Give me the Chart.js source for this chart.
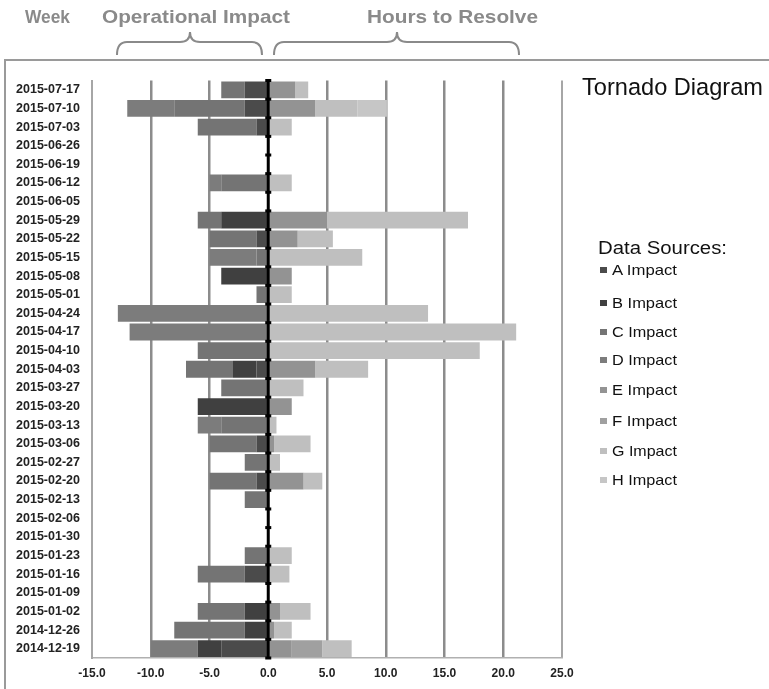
<!DOCTYPE html>
<html>
<head>
<meta charset="utf-8">
<script src="https://cdn.jsdelivr.net/npm/chart.js@4.4.1/dist/chart.umd.min.js"></script>
<style>
  body { margin: 0; background: #fff; width: 769px; height: 689px; overflow: hidden; position: relative; }
  #frame { position: absolute; left: 4px; top: 59px; width: 765px; height: 630px; border-top: 2px solid #9a9a9a; border-left: 2px solid #9a9a9a; }
  #chart { position: absolute; left: 6px; top: 61px; }
  #overlay { position: absolute; left: 0; top: 0; pointer-events: none; }
</style>
</head>
<body>
<div id="frame"></div>
<canvas id="chart" width="763" height="628"></canvas>
<svg id="overlay" width="769" height="689" xmlns="http://www.w3.org/2000/svg"></svg>
<script>
const weeks = [
  '2015-07-17', '2015-07-10', '2015-07-03', '2015-06-26', '2015-06-19', '2015-06-12',
  '2015-06-05', '2015-05-29', '2015-05-22', '2015-05-15', '2015-05-08', '2015-05-01',
  '2015-04-24', '2015-04-17', '2015-04-10', '2015-04-03', '2015-03-27', '2015-03-20',
  '2015-03-13', '2015-03-06', '2015-02-27', '2015-02-20', '2015-02-13', '2015-02-06',
  '2015-01-30', '2015-01-23', '2015-01-16', '2015-01-09', '2015-01-02', '2014-12-26',
  '2014-12-19'
];

// operational impact (left side, negative)
const aImpact = [-2, -2, -1, 0, 0, 0, 0, 0, -1, 0, 0, 0, 0, 0, 0, -1, 0, 0, 0, -1, 0, -1, 0, 0, 0, 0, -2, 0, 0, 0, -4];
const bImpact = [0, 0, 0, 0, 0, 0, 0, -4, 0, 0, -4, 0, 0, 0, 0, -2, 0, -6, 0, 0, 0, 0, 0, 0, 0, 0, 0, 0, -2, -2, -2];
const cImpact = [-2, -6, -5, 0, 0, -4, 0, -2, -4, -1, 0, -1, 0, 0, -6, -4, -4, 0, -4, -4, -2, -4, -2, 0, 0, -2, -4, 0, -4, -6, 0];
const dImpact = [0, -4, 0, 0, 0, -1, 0, 0, 0, -4, 0, 0, -12.8, -11.8, 0, 0, 0, 0, -2, 0, 0, 0, 0, 0, 0, 0, 0, 0, 0, 0, -4];
// hours to resolve (right side)
const eImpact = [2.3, 4, 0, 0, 0, 0, 0, 5, 2.5, 0, 2, 0, 0, 0, 0, 4, 0, 2, 0, 0.5, 0, 3, 0, 0, 0, 0, 0, 0, 1, 0.5, 2];
const fImpact = [0, 0, 0, 0, 0, 0, 0, 0, 0, 0, 0, 0, 0, 0, 0, 0, 0, 0, 0, 0, 0, 0, 0, 0, 0, 0, 0, 0, 0, 0, 2.6];
const gImpact = [1.1, 3.6, 2, 0, 0, 2, 0, 12, 3, 8, 0, 2, 13.6, 21.1, 18, 4.5, 3, 0, 0.7, 3.1, 1, 1.6, 0, 0, 0, 2, 1.8, 0, 2.6, 1.5, 2.5];
const hImpact = [0, 2.5, 0, 0, 0, 0, 0, 0, 0, 0, 0, 0, 0, 0, 0, 0, 0, 0, 0, 0, 0, 0, 0, 0, 0, 0, 0, 0, 0, 0, 0];

const seriesNames = ['A Impact', 'B Impact', 'C Impact', 'D Impact', 'E Impact', 'F Impact', 'G Impact', 'H Impact'];
const seriesData = [aImpact, bImpact, cImpact, dImpact, eImpact, fImpact, gImpact, hImpact];
const seriesColors = ['#4b4b4b', '#404040', '#747474', '#7c7c7c', '#939393', '#a0a0a0', '#bfbfbf', '#c6c6c6'];

const xTicks = [-15, -10, -5, 0, 5, 10, 15, 20, 25];

// black zero line with little notches between the weeks
const zeroLine = {
  id: 'zeroLine',
  afterDatasetsDraw(chart) {
    const {ctx, chartArea, scales} = chart;
    const x0 = scales.x.getPixelForValue(0);
    ctx.save();
    ctx.strokeStyle = '#000';
    ctx.lineWidth = 3;
    ctx.beginPath();
    ctx.moveTo(x0, chartArea.top);
    ctx.lineTo(x0, chartArea.bottom);
    ctx.stroke();
    ctx.fillStyle = '#000';
    for (let i = 0; i <= weeks.length; i++) {
      const y = scales.y.getPixelForValue(i - 0.5);
      ctx.fillRect(x0 - 3, y - 1.5, 6, 3);
    }
    ctx.restore();
  }
};

const datasets = seriesNames.map((label, i) => ({
  label,
  data: seriesData[i],
  backgroundColor: seriesColors[i],
  borderWidth: 0,
  barPercentage: 0.9,
  categoryPercentage: 1.0
}));

new Chart(document.getElementById('chart').getContext('2d'), {
  type: 'bar',
  data: { labels: weeks, datasets },
  options: {
    indexAxis: 'y',
    responsive: false,
    animation: false,
    layout: { padding: { left: 0, right: 207, top: 14, bottom: 5 } },
    plugins: { legend: { display: false }, tooltip: { enabled: false } },
    scales: {
      x: {
        stacked: true,
        min: -15,
        max: 25,
        afterBuildTicks: (scale) => { scale.ticks = xTicks.map(v => ({ value: v })); },
        afterFit: (scale) => { scale.height = 26; },
        ticks: {
          padding: 8,
          color: '#222',
          font: { family: '"Liberation Sans", Arial, sans-serif', size: 12, weight: 'bold' },
          callback: (v) => Number(v).toFixed(1)
        },
        grid: {
          drawTicks: false,
          color: (c) => {
            const v = c.tick && c.tick.value;
            if (v === 0) return 'rgba(0,0,0,0)';
            if (v === -15 || v === 25) return '#a6a6a6';
            return '#8c8c8c';
          },
          lineWidth: (c) => {
            const v = c.tick && c.tick.value;
            return (v === -15 || v === 25) ? 2 : 2.5;
          }
        },
        border: { display: true, color: '#b0b0b0', width: 1.5 }
      },
      y: {
        stacked: true,
        afterFit: (scale) => { scale.width = 86; },
        ticks: {
          padding: 12,
          color: '#222',
          font: { family: '"Liberation Sans", Arial, sans-serif', size: 12.5, weight: 'bold' }
        },
        grid: { display: false, drawTicks: false },
        border: { display: true, color: '#a6a6a6', width: 2 }
      }
    }
  },
  plugins: [zeroLine]
});

// header, braces, title and legend as svg text
const svg = document.getElementById('overlay');
const NS = 'http://www.w3.org/2000/svg';
const addText = (str, x, y, size, len, fill, weight) => {
  const t = document.createElementNS(NS, 'text');
  t.setAttribute('x', x);
  t.setAttribute('y', y);
  t.setAttribute('font-family', '"Liberation Sans", Arial, Helvetica, sans-serif');
  t.setAttribute('font-size', size);
  t.setAttribute('font-weight', weight || 'normal');
  t.setAttribute('fill', fill);
  t.setAttribute('textLength', len);
  t.setAttribute('lengthAdjust', 'spacingAndGlyphs');
  t.textContent = str;
  svg.appendChild(t);
};
const addPath = (d) => {
  const p = document.createElementNS(NS, 'path');
  p.setAttribute('d', d);
  p.setAttribute('fill', 'none');
  p.setAttribute('stroke', '#8a8a8a');
  p.setAttribute('stroke-width', 2);
  svg.appendChild(p);
};

addText('Week', 25, 23, 19, 45, '#8a8a8a', 'bold');
addText('Operational Impact', 102, 23, 19, 188, '#8a8a8a', 'bold');
addText('Hours to Resolve', 367, 23, 19, 171, '#8a8a8a', 'bold');
addPath('M117,55 Q117,42 127,42 L180,42 Q190,42 190,32 Q190,42 200,42 L252,42 Q262,42 262,55');
addPath('M274,55 Q274,42 284,42 L387,42 Q397,42 397,32 Q397,42 407,42 L509,42 Q519,42 519,55');

addText('Tornado Diagram', 582, 95, 24.5, 181, '#111');
addText('Data Sources:', 598, 254, 17.5, 129, '#111');

const legendBaselines = [275, 308, 337, 365, 395, 426, 456, 485];
seriesNames.forEach((name, i) => {
  const r = document.createElementNS(NS, 'rect');
  r.setAttribute('x', 600);
  r.setAttribute('y', legendBaselines[i] - 8);
  r.setAttribute('width', 7);
  r.setAttribute('height', 6);
  r.setAttribute('fill', seriesColors[i]);
  svg.appendChild(r);
  addText(name, 612, legendBaselines[i], 14.5, 65, '#111');
});
</script>
</body>
</html>
